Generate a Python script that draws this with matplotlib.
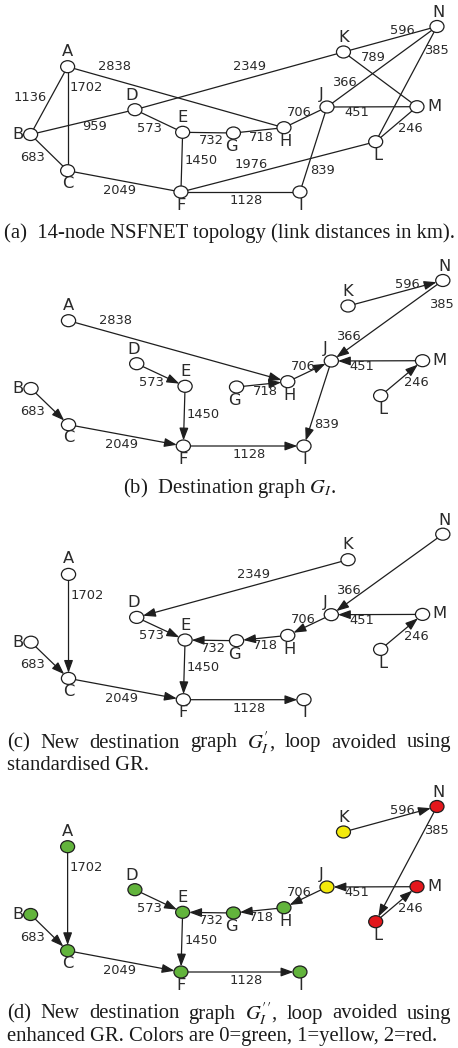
import matplotlib
matplotlib.use('Agg')
import matplotlib.pyplot as plt
from matplotlib.patches import Ellipse, FancyArrowPatch, ArrowStyle

plt.rcParams['mathtext.fontset'] = 'stix'

# ---------------- data ----------------
nodes = list('ABCDEFGHIJKLMN')
# NSFNET links and distances (km)
link_u = ['A', 'A', 'A', 'B', 'B', 'C', 'D', 'D', 'E', 'E', 'F', 'F', 'G', 'H', 'I', 'J', 'J', 'K', 'K', 'L', 'L']
link_v = ['B', 'C', 'H', 'C', 'D', 'F', 'E', 'K', 'F', 'G', 'I', 'L', 'H', 'J', 'J', 'M', 'N', 'M', 'N', 'M', 'N']
link_km = [1136, 1702, 2838, 683, 959, 2049, 573, 2349, 1450, 732, 1128, 1976, 718, 706, 839, 451, 366, 789, 596, 246, 385]

# destination graph G_I (directed: from -> to)
gb_from = ['A', 'D', 'E', 'B', 'C', 'F', 'G', 'H', 'J', 'K', 'N', 'M', 'L']
gb_to = ['H', 'E', 'F', 'C', 'F', 'I', 'H', 'J', 'I', 'N', 'J', 'J', 'M']
gb_extra_labels = [385]

# G'_I
gc_from = ['A', 'B', 'C', 'D', 'G', 'E', 'F', 'K', 'H', 'J', 'N', 'M', 'L']
gc_to = ['C', 'C', 'F', 'E', 'E', 'F', 'I', 'D', 'G', 'H', 'J', 'J', 'M']

# G''_I
gd_from = ['A', 'B', 'C', 'D', 'G', 'E', 'F', 'H', 'J', 'M', 'K', 'N', 'L']
gd_to = ['C', 'C', 'F', 'E', 'E', 'F', 'I', 'G', 'H', 'J', 'N', 'L', 'M']
gd_color_idx = [0, 0, 0, 0, 0, 0, 0, 0, 0, 1, 1, 2, 2, 2]
color_names = ['green', 'yellow', 'red']

# ---------------- layout / style ----------------
W, H = 458, 1048
node_pos = {
    'A': (67.7, 66.7), 'B': (30.7, 134.5), 'C': (67.7, 170.7), 'D': (135, 109.7),
    'E': (182.7, 132.3), 'F': (181, 192), 'G': (233.5, 133), 'H': (284, 127.7),
    'I': (300, 192), 'J': (327, 107), 'K': (343.5, 52), 'L': (375.7, 141.7),
    'M': (417, 106.7), 'N': (437, 26.5),
}
node_lab_off = {
    'A': (0, -15.5), 'B': (-12.5, 0), 'C': (0, 13), 'D': (-3, -14.5),
    'E': (0, -15), 'F': (0, 13), 'G': (-2, 13.5), 'H': (1.5, 14),
    'I': (1, 13), 'J': (-6, -12.5), 'K': (0, -15), 'L': (2, 14),
    'M': (17, -0.5), 'N': (1.5, -14),
}
edge_lab_pos = {
    1136: (30, 97.7), 1702: (86, 87.5), 2838: (114.5, 67), 683: (32.5, 157.3),
    959: (95, 126.7), 2049: (119.5, 190.5), 573: (150, 128), 2349: (250, 66.7),
    1450: (201, 160), 732: (211, 140.7), 1128: (246, 200.5), 1976: (251.3, 164.3),
    718: (261.5, 137.5), 706: (299, 112), 839: (322.5, 170), 451: (357, 112.3),
    366: (344, 83), 789: (373, 57.3), 596: (402, 30), 246: (410.5, 129),
    385: (436, 51),
}
fill_colors = {'green': '#62b43c', 'yellow': '#f3ea0c', 'red': '#e3171c'}
LINE_C = '#1e1e1e'
TXT_C = '#2a2a2a'
NODE_W, NODE_H = 14, 12

km_of = {}
for u, v, k in zip(link_u, link_v, link_km):
    km_of[frozenset((u, v))] = k

fig = plt.figure(figsize=(W / 100, H / 100), dpi=100)


def panel(top, sx=1.0, hloc=218):
    ax = fig.add_axes([0, 1 - (top + hloc) / H, 1, hloc / H])
    ax.set_xlim(0.1, W / sx)
    ax.set_ylim(hloc, 0)
    ax.axis('off')
    return ax


def draw_nodes(ax, colors=None):
    patches = {}
    for i, n in enumerate(nodes):
        x, y = node_pos[n]
        fc = 'white' if colors is None else fill_colors[colors[i]]
        e = Ellipse((x, y), NODE_W, NODE_H, facecolor=fc, edgecolor=LINE_C,
                    lw=0.9, zorder=3)
        ax.add_patch(e)
        patches[n] = e
        dx, dy = node_lab_off[n]
        ax.text(x + dx, y + dy, n, ha='center', va='center', fontsize=11.8,
                color=TXT_C, family='DejaVu Sans', zorder=4)
    return patches


def edge_label(ax, km):
    x, y = edge_lab_pos[km]
    ax.text(x, y, str(km), ha='center', va='center', fontsize=9.4,
            color=TXT_C, family='DejaVu Sans', zorder=4)


def draw_directed(ax, froms, tos, patches):
    style = ArrowStyle('-|>', head_length=0.75, head_width=0.27)
    for u, v in zip(froms, tos):
        a = FancyArrowPatch(node_pos[u], node_pos[v], arrowstyle=style,
                            patchA=patches[u], patchB=patches[v],
                            shrinkA=0, shrinkB=0, mutation_scale=10,
                            lw=0.9, color=LINE_C, zorder=2)
        ax.add_patch(a)
        edge_label(ax, km_of[frozenset((u, v))])


# (a) topology
axa = panel(0)
draw_nodes(axa)
for u, v, k in zip(link_u, link_v, link_km):
    (x1, y1), (x2, y2) = node_pos[u], node_pos[v]
    axa.plot([x1, x2], [y1, y2], color=LINE_C, lw=0.9, zorder=1)
    edge_label(axa, k)

# (b)
axb = panel(254, sx=1.0133)
pb = draw_nodes(axb)
draw_directed(axb, gb_from, gb_to, pb)
for k in gb_extra_labels:
    edge_label(axb, k)

# (c)
axc = panel(507.7, sx=1.0133)
pc = draw_nodes(axc)
draw_directed(axc, gc_from, gc_to, pc)

# (d)
axd = panel(780)
pd = draw_nodes(axd, colors=[color_names[c] for c in gd_color_idx])
draw_directed(axd, gd_from, gd_to, pd)

# ---------------- captions ----------------
CAP = dict(family='Liberation Serif', fontsize=14.9, color='#1a1a1a', va='center')
renderer = fig.canvas.get_renderer()


def fx(x):
    return x / W


def fy(y):
    return 1 - y / H


def centered(s, y, xc=229.5):
    fig.text(fx(xc), fy(y), s, ha='center', **CAP)


def left(s, y, x0=7):
    fig.text(fx(x0), fy(y), s, ha='left', **CAP)


def justified(words, y, x0=7, x1=451):
    ts = [fig.text(0, fy(y), w, ha='left', **CAP) for w in words]
    widths = [t.get_window_extent(renderer).width for t in ts]
    gap = (x1 - x0 - sum(widths)) / (len(words) - 1)
    x = x0
    for t, w in zip(ts, widths):
        t.set_x(fx(x))
        x += w + gap


centered('(a)  14-node NSFNET topology (link distances in km).', 233)
centered('(b)  Destination graph $G_I$.', 488)
justified(['(c)', 'New', 'destination', 'graph', r"$G_I^{\prime}$,", 'loop', 'avoided', 'using'], 743)
left('standardised GR.', 765)
justified(['(d)', 'New', 'destination', 'graph', r"$G_I^{\prime\prime}$,", 'loop', 'avoided', 'using'], 1014)
left('enhanced GR. Colors are 0=green, 1=yellow, 2=red.', 1036)

fig.savefig('out.png', dpi=100)
